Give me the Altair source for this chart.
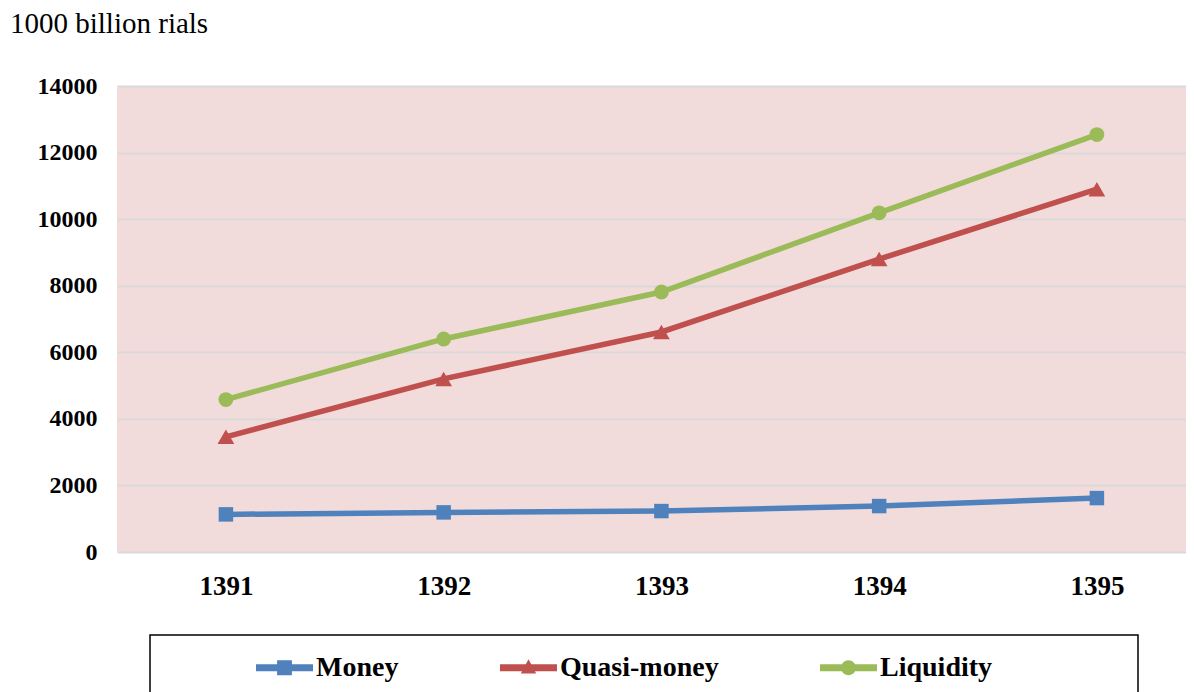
import altair as alt
import pandas as pd

years = ["1391", "1392", "1393", "1394", "1395"]
series = ["Money", "Quasi-money", "Liquidity"]
money = [1130, 1190, 1230, 1380, 1620]
quasi_money = [3460, 5200, 6610, 8800, 10900]
liquidity = [4580, 6400, 7810, 10190, 12540]
colors = ["#4F81BD", "#C0504D", "#9BBB59"]
shapes = ["square", "triangle-up", "circle"]
marker_sizes = [210, 280, 220]
y_ticks = [0, 2000, 4000, 6000, 8000, 10000, 12000, 14000]
title_text = "1000 billion rials"

rows = []
for name, vals in zip(series, [money, quasi_money, liquidity]):
    for yr, v in zip(years, vals):
        rows.append({"year": yr, "series": name, "value": v})
df = pd.DataFrame(rows)

# legend symbols: a line segment with the series marker on it
seg = "M-1,-0.12H1V0.12H-1Z "
legend_paths = {
    "Money": seg + "M-0.26,-0.26H0.26V0.26H-0.26Z",
    "Quasi-money": seg + "M0,-0.3L0.27,0.2L-0.27,0.2Z",
    "Liquidity": seg + "M0.26,0A0.26,0.26 0 1 1 -0.26,0A0.26,0.26 0 1 1 0.26,0Z",
}
sym_expr = ("datum.value == 'Money' ? '%s' : datum.value == 'Quasi-money' ? '%s' : '%s'"
            % (legend_paths["Money"], legend_paths["Quasi-money"], legend_paths["Liquidity"]))

FONT = "Liberation Serif"

x_enc = alt.X(
    "year:O",
    sort=years,
    scale=alt.Scale(type="point", padding=0.4547, align=0.55),
    axis=alt.Axis(title=None, labelAngle=0, labelFont=FONT, labelFontSize=27,
                  labelFontWeight="bold", labelColor="black", labelPadding=21,
                  ticks=False, domain=False, grid=False),
)
y_enc = alt.Y(
    "value:Q",
    scale=alt.Scale(domain=[0, 14000], nice=False),
    axis=alt.Axis(title=None, values=y_ticks, format="d", labelFont=FONT,
                  labelFontSize=24, labelFontWeight="bold", labelColor="black",
                  labelPadding=20, ticks=False, domain=False, grid=True,
                  gridColor="#D9D9D9", gridWidth=2),
)
color_scale = alt.Scale(domain=series, range=colors)

legend = alt.Legend(
    title=None, orient="none", legendX=139, legendY=553,
    direction="horizontal", columns=3,
    symbolType=alt.ExprRef(expr=sym_expr), symbolSize=3249,
    symbolStrokeWidth=0, symbolOpacity=1,
    labelFont=FONT, labelFontSize=28, labelFontWeight="bold",
    labelColor="black", labelOffset=3, columnPadding=101, padding=0,
    labelLimit=0,
)
color_enc = alt.Color("series:N", scale=color_scale, sort=series, legend=legend)

base = alt.Chart(df)

# carries the legend only (draws nothing)
legend_layer = base.transform_filter("false").mark_point(filled=True, opacity=1).encode(
    x=x_enc, y=y_enc, color=color_enc,
)

lines = base.mark_line(strokeWidth=5.5).encode(
    x=x_enc, y=y_enc, color=color_enc,
)

point_layers = [
    base.transform_filter(alt.datum.series == s).mark_point(
        filled=True, opacity=1, shape=sh, size=sz, color=c
    ).encode(x=x_enc, y=y_enc)
    for s, sh, sz, c in zip(series, shapes, marker_sizes, colors)
]

box = alt.Chart(pd.DataFrame({"k": [0]})).mark_rect(
    fillOpacity=0, stroke="black", strokeWidth=1.5
).encode(
    x=alt.value(33), x2=alt.value(1021), y=alt.value(549), y2=alt.value(640)
)

chart = alt.layer(legend_layer, lines, *point_layers, box).properties(
    width=1069,
    height=466,
    title=alt.TitleParams(
        text=title_text, anchor="start", frame="group", font=FONT, fontSize=29,
        fontWeight="normal", color="black", baseline="alphabetic", dx=-107, dy=-12,
        offset=0,
    ),
    autosize=alt.AutoSizeParams(type="none"),
    padding={"left": 109, "top": 78, "right": 0, "bottom": 140},
).configure_view(fill="#F2DCDB", stroke=None)

chart.save("out.html", embed_options={"renderer": "svg", "actions": False})
